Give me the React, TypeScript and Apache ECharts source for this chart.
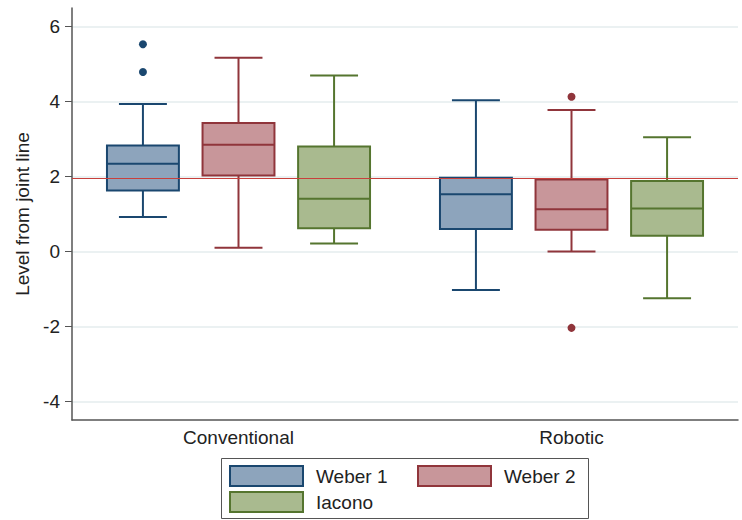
import React, { useEffect, useRef } from "react";
import * as echarts from "echarts";

const categories = ["Conventional", "Robotic"];
const seriesNames = ["Weber 1", "Weber 2", "Iacono"];
// [low whisker, Q1, median, Q3, high whisker] per category
const weber1Boxes = [
  [0.92, 1.63, 2.34, 2.83, 3.94],
  [-1.03, 0.6, 1.53, 1.97, 4.04],
];
const weber2Boxes = [
  [0.1, 2.03, 2.85, 3.43, 5.17],
  [0.0, 0.58, 1.13, 1.92, 3.78],
];
const iaconoBoxes = [
  [0.21, 0.62, 1.41, 2.8, 4.7],
  [-1.25, 0.42, 1.15, 1.88, 3.05],
];
// [category index, value]
const weber1Outliers = [
  [0, 5.53],
  [0, 4.79],
];
const weber2Outliers = [
  [1, 4.13],
  [1, -2.04],
];
const iaconoOutliers: number[][] = [];
const referenceValue = 1.96;
const yTicks = [-4, -2, 0, 2, 4, 6];

const strokeColors = ["#1a476f", "#90353b", "#55752f"];
const fillColors = ["#8da4bc", "#c8969a", "#a9ba8f"];
const FONT = "Liberation Sans, Arial, sans-serif";
const FS = 19;

export default function App() {
  const ref = useRef<HTMLDivElement>(null);
  useEffect(() => {
    document.body.style.margin = "0";
    if (!ref.current) return;
    const chart = echarts.init(ref.current, undefined, { renderer: "svg" });
    const boxSets = [weber1Boxes, weber2Boxes, iaconoBoxes];
    const outlierSets = [weber1Outliers, weber2Outliers, iaconoOutliers];
    const offsets = [-0.287, 0, 0.287];
    const boxFrac = 0.216;
    const capFrac = 0.144;

    const boxSeries = boxSets.map((boxes, si) => ({
      type: "custom",
      name: seriesNames[si],
      z: 3,
      data: boxes.map((b, ci) => [ci, ...b]),
      encode: { x: 0, y: [1, 2, 3, 4, 5] },
      renderItem: (params: any, api: any) => {
        const cat = api.value(0);
        const band = api.size([1, 0])[0];
        const cx = api.coord([cat, 0])[0] + offsets[si] * band;
        const y = (v: number) => api.coord([cat, v])[1];
        const low = y(api.value(1));
        const q1 = y(api.value(2));
        const med = y(api.value(3));
        const q3 = y(api.value(4));
        const high = y(api.value(5));
        const bw = band * boxFrac;
        const cw = band * capFrac;
        const ls = { stroke: strokeColors[si], lineWidth: 2 };
        return {
          type: "group",
          children: [
            { type: "line", shape: { x1: cx, y1: q3, x2: cx, y2: high }, style: ls },
            { type: "line", shape: { x1: cx, y1: q1, x2: cx, y2: low }, style: ls },
            { type: "line", shape: { x1: cx - cw / 2, y1: high, x2: cx + cw / 2, y2: high }, style: ls },
            { type: "line", shape: { x1: cx - cw / 2, y1: low, x2: cx + cw / 2, y2: low }, style: ls },
            {
              type: "rect",
              shape: { x: cx - bw / 2, y: q3, width: bw, height: q1 - q3 },
              style: { fill: fillColors[si], stroke: strokeColors[si], lineWidth: 2 },
            },
            { type: "line", shape: { x1: cx - bw / 2, y1: med, x2: cx + bw / 2, y2: med }, style: ls },
          ],
        };
      },
    }));

    const outlierSeries = outlierSets.map((pts, si) => ({
      type: "custom",
      name: seriesNames[si],
      z: 4,
      data: pts,
      encode: { x: 0, y: 1 },
      renderItem: (params: any, api: any) => {
        const cat = api.value(0);
        const band = api.size([1, 0])[0];
        const p = api.coord([cat, api.value(1)]);
        return {
          type: "circle",
          shape: { cx: p[0] + offsets[si] * band, cy: p[1], r: 4 },
          style: { fill: strokeColors[si] },
        };
      },
    }));

    const refSeries = {
      type: "line",
      name: "ref",
      data: [],
      z: 10,
      markLine: {
        silent: true,
        symbol: "none",
        label: { show: false },
        lineStyle: { color: "#c8403c", width: 1, type: "solid" },
        data: [{ yAxis: referenceValue }],
        z: 10,
      },
    };

    const legendBase = {
      show: true,
      icon: "rect",
      itemWidth: 73,
      itemHeight: 20,
      itemGap: 4,
      orient: "vertical",
      padding: [6, 7, 0, 7],
      selectedMode: false,
      textStyle: { fontSize: FS, color: "#222", fontFamily: FONT, padding: [0, 0, 0, 8] },
    };
    const legendItem = (i: number) => ({
      name: seriesNames[i],
      itemStyle: { color: fillColors[i], borderColor: strokeColors[i], borderWidth: 2 },
    });

    chart.setOption({
      animation: false,
      backgroundColor: "#ffffff",
      textStyle: { fontFamily: FONT },
      grid: { left: 72, right: 4, top: 8, bottom: 100, containLabel: false },
      legend: [
        { ...legendBase, left: 222, top: 459, height: 60, data: [legendItem(0), legendItem(2)] },
        { ...legendBase, left: 410, top: 459, height: 60, data: [legendItem(1)] },
      ],
      graphic: [
        {
          type: "rect",
          silent: true,
          shape: { x: 221.5, y: 458.5, width: 367, height: 60 },
          style: { fill: "none", stroke: "#555", lineWidth: 1 },
        },
      ],
      xAxis: {
        type: "category",
        data: categories,
        axisLine: { show: true, onZero: false, lineStyle: { color: "#555", width: 1.5 } },
        axisTick: { show: false },
        axisLabel: { fontSize: FS, color: "#222", margin: 8, fontFamily: FONT },
        splitLine: { show: false },
      },
      yAxis: {
        type: "value",
        min: -4.5,
        max: 6.5,
        name: "Level from joint line",
        nameLocation: "middle",
        nameGap: 40,
        nameTextStyle: { fontSize: FS, color: "#222", fontFamily: FONT },
        axisLine: { show: true, lineStyle: { color: "#555", width: 1.5 } },
        axisTick: { show: true, length: 7, lineStyle: { color: "#555" }, customValues: yTicks },
        axisLabel: { fontSize: FS, color: "#222", margin: 12, fontFamily: FONT, customValues: yTicks },
        splitLine: { show: true, lineStyle: { color: "#e4ecee", width: 1.5 }, customValues: yTicks },
      },
      series: [...boxSeries, ...outlierSeries, refSeries],
    });
    return () => chart.dispose();
  }, []);
  return <div ref={ref} style={{ width: 742, height: 520 }} />;
}
